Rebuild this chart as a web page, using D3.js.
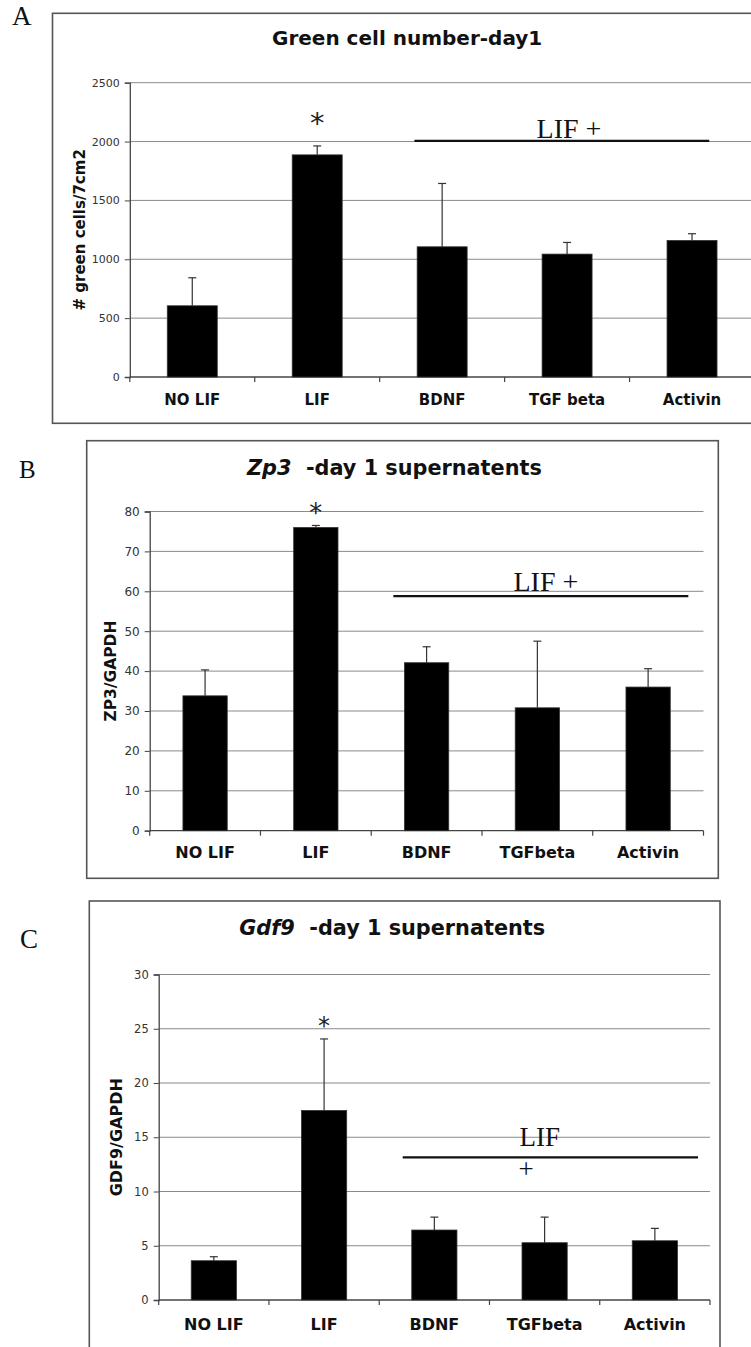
<!DOCTYPE html>
<html>
<head>
<meta charset="utf-8">
<script src="https://cdn.jsdelivr.net/npm/d3@7"></script>
<style>
  html, body { margin: 0; padding: 0; background: #fff; }
  svg { display: block; }
</style>
</head>
<body>
<svg id="chart" width="751" height="1347"></svg>
<script>
// ---------- data ----------
const categoriesA = ["NO LIF", "LIF", "BDNF", "TGF beta", "Activin"];
const valuesA = [605, 1887, 1106, 1044, 1160];
const errorsA = [238, 76, 538, 99, 57];
const ticksA = [0, 500, 1000, 1500, 2000, 2500];

const categoriesB = ["NO LIF", "LIF", "BDNF", "TGFbeta", "Activin"];
const valuesB = [33.8, 76.0, 42.1, 30.8, 36.0];
const errorsB = [6.5, 0.5, 4.0, 16.7, 4.6];
const ticksB = [0, 10, 20, 30, 40, 50, 60, 70, 80];

const categoriesC = ["NO LIF", "LIF", "BDNF", "TGFbeta", "Activin"];
const valuesC = [3.62, 17.47, 6.45, 5.28, 5.46];
const errorsC = [0.37, 6.59, 1.19, 2.36, 1.14];
const ticksC = [0, 5, 10, 15, 20, 25, 30];

const titleA = ["", "Green cell number-day1"];
const titleB = ["Zp3", "  -day 1 supernatents"];
const titleC = ["Gdf9", "  -day 1 supernatents"];
const yTitleA = "# green cells/7cm2";
const yTitleB = "ZP3/GAPDH";
const yTitleC = "GDF9/GAPDH";

// ---------- drawing ----------
const svg = d3.select("#chart");
const SANS = "'DejaVu Sans', Verdana, sans-serif";
const SERIF = "'Liberation Serif', 'Times New Roman', serif";

function panel(cfg) {
  const g = svg.append("g");
  // frame
  g.append("rect")
    .attr("x", cfg.frame[0]).attr("y", cfg.frame[1])
    .attr("width", cfg.frame[2] - cfg.frame[0]).attr("height", cfg.frame[3] - cfg.frame[1])
    .attr("fill", "none").attr("stroke", "#555").attr("stroke-width", 1.6);

  // panel letter
  svg.append("text").attr("x", cfg.letter[0]).attr("y", cfg.letter[1])
    .attr("font-family", SERIF).attr("font-size", cfg.letter[2])
    .attr("fill", "#111").text(cfg.letter[3]);

  const x = d3.scaleBand().domain(cfg.categories).range([cfg.x0, cfg.x1])
    .paddingInner(cfg.pad).paddingOuter(cfg.pad / 2);
  const xi = d3.scaleLinear().domain([0, cfg.categories.length]).range([cfg.x0, cfg.x1]);
  const y = d3.scaleLinear().domain([0, d3.max(cfg.ticks)]).range([cfg.y0, cfg.y1]);

  // gridlines
  g.append("g").selectAll("line").data(cfg.ticks.slice(1)).join("line")
    .attr("x1", cfg.x0).attr("x2", cfg.gridEnd)
    .attr("y1", d => y(d)).attr("y2", d => y(d))
    .attr("stroke", "#8a8a8a").attr("stroke-width", 1);

  // y axis
  const yAxis = d3.axisLeft(y).tickValues(cfg.ticks).tickSize(5).tickPadding(cfg.tickPad)
    .tickFormat(d3.format("d"));
  const ya = g.append("g").attr("transform", `translate(${cfg.x0},0)`).call(yAxis);
  ya.select(".domain").attr("stroke", "#444").attr("stroke-width", 1.3);
  ya.selectAll(".tick line").attr("stroke", "#444");
  ya.selectAll(".tick text").attr("font-family", SANS).attr("font-size", cfg.tickFont)
    .attr("fill", "#333");

  // x axis baseline with ticks at category boundaries
  const xa = g.append("g");
  xa.append("line").attr("x1", cfg.x0).attr("x2", cfg.x1)
    .attr("y1", cfg.y0).attr("y2", cfg.y0).attr("stroke", "#444").attr("stroke-width", 1.3);
  xa.selectAll("line.t").data(d3.range(0, cfg.categories.length + 1)).join("line")
    .attr("class", "t")
    .attr("x1", d => xi(d)).attr("x2", d => xi(d))
    .attr("y1", cfg.y0).attr("y2", cfg.y0 + 5).attr("stroke", "#444").attr("stroke-width", 1.2);
  xa.selectAll("text").data(cfg.categories).join("text")
    .attr("x", d => x(d) + x.bandwidth() / 2).attr("y", cfg.labelY)
    .attr("text-anchor", "middle").attr("font-family", SANS).attr("font-weight", "bold")
    .attr("font-size", cfg.labelFont).attr("fill", "#111").text(d => d);

  // error bars (upper only)
  const eb = g.append("g");
  cfg.categories.forEach((c, i) => {
    const cx = x(c) + x.bandwidth() / 2;
    const top = y(cfg.values[i] + cfg.errors[i]);
    eb.append("line").attr("x1", cx).attr("x2", cx).attr("y1", y(cfg.values[i])).attr("y2", top)
      .attr("stroke", "#333").attr("stroke-width", 1.2);
    eb.append("line").attr("x1", cx - 4).attr("x2", cx + 4).attr("y1", top).attr("y2", top)
      .attr("stroke", "#333").attr("stroke-width", 1.2);
  });

  // bars
  g.append("g").selectAll("rect").data(cfg.categories).join("rect")
    .attr("x", d => x(d)).attr("width", x.bandwidth())
    .attr("y", (d, i) => y(cfg.values[i]))
    .attr("height", (d, i) => cfg.y0 - y(cfg.values[i]))
    .attr("fill", "#000").attr("stroke", "#333").attr("stroke-width", 0.8);

  // title
  const t = g.append("text").attr("x", cfg.titleX).attr("y", cfg.titleY)
    .attr("font-family", SANS).attr("font-weight", "bold").attr("font-size", cfg.titleFont)
    .attr("fill", "#111").attr("xml:space", "preserve").style("white-space", "pre");
  if (cfg.title[0]) t.append("tspan").attr("font-style", "italic").text(cfg.title[0]);
  t.append("tspan").text(cfg.title[1]);

  // y title
  g.append("text")
    .attr("transform", `translate(${cfg.yTitleX},${(cfg.y0 + cfg.y1) / 2}) rotate(-90)`)
    .attr("text-anchor", "middle").attr("dominant-baseline", "central")
    .attr("font-family", SANS).attr("font-weight", "bold").attr("font-size", cfg.yTitleFont)
    .attr("fill", "#111").text(cfg.yTitle);

  // significance asterisk above LIF
  const lifX = x("LIF") + x.bandwidth() / 2;
  g.append("text").attr("x", lifX).attr("y", y(cfg.starV))
    .attr("text-anchor", "middle").attr("font-family", SANS).attr("font-size", cfg.starFont)
    .attr("fill", "#222").text("*");

  // LIF + bracket
  g.append("line").attr("x1", xi(cfg.lif.from)).attr("x2", xi(cfg.lif.to))
    .attr("y1", y(cfg.lif.v)).attr("y2", y(cfg.lif.v))
    .attr("stroke", "#111").attr("stroke-width", 2.2);
  cfg.lif.texts.forEach(tt => {
    g.append("text").attr("x", xi(tt.at)).attr("y", y(tt.v))
      .attr("text-anchor", "middle").attr("font-family", SERIF).attr("font-size", cfg.lif.font)
      .attr("fill", "#111").text(tt.s);
  });
}

panel({
  frame: [52.5, 13.3, 770, 423.3],
  letter: [12, 25, 27, "A"],
  categories: categoriesA, values: valuesA, errors: errorsA, ticks: ticksA,
  x0: 129.8, x1: 754.5, y0: 377, y1: 82.7, gridEnd: 760, pad: 0.6,
  tickPad: 5, tickFont: 11, labelY: 405, labelFont: 15,
  title: titleA, titleX: 272, titleY: 45, titleFont: 20,
  yTitle: yTitleA, yTitleX: 79.5, yTitleFont: 15,
  starV: 2074, starFont: 29,
  lif: { from: 2.278, to: 4.638, v: 2006, font: 28, texts: [{ s: "LIF +", at: 3.515, v: 2032 }] }
});

panel({
  frame: [86.7, 440.7, 718.3, 878.3],
  letter: [19, 478, 25, "B"],
  categories: categoriesB, values: valuesB, errors: errorsB, ticks: ticksB,
  x0: 149.7, x1: 703.5, y0: 830.7, y1: 511.5, gridEnd: 703.5, pad: 0.6,
  tickPad: 5, tickFont: 12, labelY: 858.3, labelFont: 16,
  title: titleB, titleX: 247, titleY: 475, titleFont: 20.8,
  yTitle: yTitleB, yTitleX: 110.5, yTitleFont: 15.5,
  starV: 77.3, starFont: 26,
  lif: { from: 2.2, to: 4.863, v: 58.8, font: 28, texts: [{ s: "LIF +", at: 3.577, v: 60.2 }] }
});

panel({
  frame: [89.3, 901, 720, 1360],
  letter: [20, 948, 27, "C"],
  categories: categoriesC, values: valuesC, errors: errorsC, ticks: ticksC,
  x0: 158.7, x1: 710, y0: 1300, y1: 974.5, gridEnd: 710, pad: 0.59,
  tickPad: 5, tickFont: 11.5, labelY: 1330, labelFont: 16,
  title: titleC, titleX: 239.3, titleY: 935, titleFont: 20.8,
  yTitle: yTitleC, yTitleX: 116.7, yTitleFont: 16,
  starV: 24.49, starFont: 24,
  lif: { from: 2.213, to: 4.891, v: 13.15, font: 27,
         texts: [{ s: "LIF", at: 3.457, v: 14.2 }, { s: "+", at: 3.333, v: 11.2 }] }
});
</script>
</body>
</html>
